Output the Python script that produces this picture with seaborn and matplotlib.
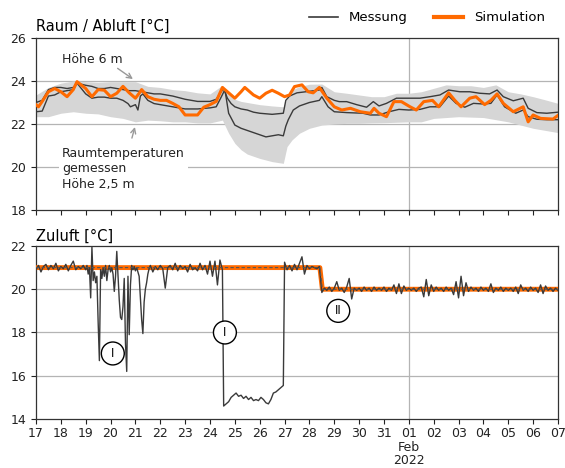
import numpy as np
import pandas as pd
import matplotlib
matplotlib.use("Agg")
import matplotlib.pyplot as plt
import matplotlib.dates as mdates
from matplotlib.ticker import FuncFormatter
from matplotlib.lines import Line2D
import seaborn as sns

# ---------------- data (day of January 2022; 32 = Feb 01) ----------------
hi_t = [17.0, 17.25, 17.5, 17.75, 18.0, 18.25, 18.5, 18.65, 19.0, 19.25, 19.5, 19.75, 20.0, 20.25,
        20.5, 20.75, 21.0, 21.25, 21.5, 21.75, 22.0, 22.5, 23.0, 23.5, 24.0, 24.25, 24.45, 24.55,
        24.7, 24.85, 25.0, 25.25, 25.5, 25.75, 26.0, 26.5, 26.95, 27.05, 27.2, 27.5, 28.0, 28.4,
        28.5, 28.7, 29.0, 29.2, 29.5, 29.9, 30.3, 30.57, 30.8, 31.1, 31.5, 32.0, 32.45, 32.85,
        33.25, 33.6, 34.05, 34.45, 34.85, 35.25, 35.55, 35.8, 36.2, 36.6, 36.8, 37.15, 37.55, 38.0]
hi_v = [23.0, 23.1, 23.6, 23.7, 23.7, 23.65, 23.7, 23.9, 23.8, 23.75, 23.65, 23.65, 23.7, 23.65,
        23.6, 23.55, 23.55, 23.5, 23.45, 23.4, 23.4, 23.3, 23.15, 23.05, 23.05, 23.15, 23.5, 23.65,
        23.2, 22.95, 22.8, 22.7, 22.65, 22.55, 22.5, 22.45, 22.5, 23.1, 23.3, 23.45, 23.52, 23.58,
        23.7, 23.27, 23.1, 23.04, 23.04, 22.9, 22.78, 23.04, 22.84, 22.96, 23.2, 23.2, 23.2, 23.27,
        23.35, 23.58, 23.5, 23.5, 23.43, 23.4, 23.58, 23.27, 23.08, 23.2, 22.73, 22.53, 22.5, 22.55]

lo_t = [17.0, 17.25, 17.5, 17.75, 18.0, 18.25, 18.5, 18.65, 19.0, 19.25, 19.5, 19.75, 20.0, 20.25,
        20.5, 20.7, 20.8, 21.0, 21.1, 21.2, 21.3, 21.5, 21.75, 22.0, 22.5, 23.0, 23.5, 24.0, 24.25,
        24.45, 24.6, 24.75, 25.0, 25.25, 25.5, 25.75, 26.0, 26.25, 26.5, 26.75, 26.95, 27.05, 27.15,
        27.35, 27.6, 28.0, 28.4, 28.5, 28.75, 29.0, 29.5, 30.15, 30.45, 30.8, 31.2, 31.6, 32.0,
        32.45, 32.85, 33.25, 33.6, 33.9, 34.25, 34.6, 35.0, 35.3, 35.55, 35.85, 36.3, 36.6, 36.8,
        37.15, 37.55, 38.0]
lo_v = [22.57, 22.6, 23.3, 23.35, 23.5, 23.55, 23.6, 23.9, 23.4, 23.2, 23.25, 23.25, 23.2, 23.2,
        23.1, 22.95, 22.8, 22.9, 22.65, 23.3, 23.4, 23.1, 22.95, 22.9, 22.8, 22.7, 22.7, 22.75, 22.8,
        23.25, 23.6, 22.5, 21.95, 21.8, 21.7, 21.6, 21.5, 21.4, 21.45, 21.5, 21.45, 21.9, 22.2,
        22.65, 22.84, 23.0, 23.1, 23.27, 22.8, 22.57, 22.53, 22.5, 22.42, 22.42, 22.57, 22.68, 22.65,
        22.68, 22.8, 22.8, 23.3, 22.96, 22.78, 22.96, 22.93, 22.96, 23.35, 22.8, 22.5, 22.65, 22.34,
        22.22, 22.2, 22.2]

sim_t = [17.0, 17.1, 17.25, 17.5, 17.75, 18.0, 18.25, 18.5, 18.65, 19.0, 19.25, 19.5, 19.75, 20.0,
         20.25, 20.5, 20.75, 21.0, 21.15, 21.25, 21.5, 21.75, 22.0, 22.25, 22.5, 22.75, 23.0, 23.25,
         23.5, 23.75, 24.0, 24.25, 24.5, 24.75, 25.0, 25.25, 25.4, 25.75, 26.0, 26.25, 26.5, 26.75,
         27.0, 27.2, 27.4, 27.7, 27.95, 28.15, 28.4, 28.7, 29.0, 29.3, 29.65, 30.05, 30.45, 30.6,
         30.8, 31.1, 31.4, 31.7, 32.05, 32.3, 32.6, 32.95, 33.2, 33.6, 33.85, 34.1, 34.45, 34.7,
         35.05, 35.3, 35.55, 35.8, 36.2, 36.6, 36.8, 37.0, 37.3, 37.8, 38.0]
sim_v = [22.9, 22.8, 23.05, 23.5, 23.65, 23.5, 23.27, 23.6, 23.97, 23.65, 23.27, 23.6, 23.57, 23.27,
         23.43, 23.75, 23.45, 23.2, 23.43, 23.6, 23.27, 23.15, 23.1, 23.1, 22.96, 22.8, 22.42, 22.42,
         22.42, 22.78, 22.9, 23.05, 23.7, 23.45, 23.2, 23.5, 23.7, 23.35, 23.2, 23.43, 23.57, 23.43,
         23.27, 23.35, 23.74, 23.82, 23.5, 23.45, 23.7, 23.2, 22.8, 22.65, 22.73, 22.57, 22.5, 22.73,
         22.5, 22.34, 23.04, 23.04, 22.8, 22.65, 23.04, 23.1, 22.8, 23.45, 23.1, 22.8, 23.2, 23.27,
         22.9, 23.1, 23.4, 22.96, 22.57, 22.8, 22.1, 22.42, 22.26, 22.23, 22.4]

band_t = [17.0, 17.5, 18.0, 18.5, 19.0, 19.5, 20.0, 20.5, 21.0, 21.5, 22.0, 22.5, 23.0, 23.5, 24.0,
          24.5, 24.75, 25.0, 25.25, 25.5, 26.0, 26.5, 26.95, 27.1, 27.3, 27.6, 28.0, 28.5, 29.0,
          29.5, 30.0, 30.5, 31.0, 31.5, 32.0, 32.5, 33.0, 33.5, 34.0, 34.5, 35.0, 35.5, 36.0, 36.5,
          37.0, 37.5, 38.0]
band_hi = [23.35, 23.7, 23.9, 24.0, 23.97, 23.94, 23.97, 23.97, 23.97, 23.75, 23.7, 23.6, 23.55,
           23.45, 23.4, 23.8, 23.4, 23.15, 23.05, 23.0, 22.9, 22.84, 22.8, 23.2, 23.58, 23.74, 23.85,
           23.86, 23.5, 23.43, 23.35, 23.27, 23.27, 23.43, 23.43, 23.5, 23.66, 23.82, 23.78, 23.78,
           23.7, 23.82, 23.5, 23.4, 23.27, 23.12, 22.96]
band_lo = [22.34, 22.34, 22.5, 22.57, 22.5, 22.47, 22.34, 22.26, 22.1, 22.18, 22.15, 22.1, 22.1,
           22.05, 22.05, 22.18, 21.57, 21.1, 20.8, 20.6, 20.4, 20.25, 20.17, 20.95, 21.26, 21.57,
           21.8, 21.95, 22.0, 22.03, 22.03, 22.05, 22.06, 22.08, 22.1, 22.1, 22.26, 22.3, 22.34,
           22.32, 22.3, 22.2, 22.1, 21.95, 21.8, 21.7, 21.6]

# Zuluft measurement, in segments (start day, step in days, values)
zu_seg1 = [20.9, 21.1, 20.8, 21.05, 21.15, 20.9, 21.1, 20.95, 21.2, 20.85, 21.05, 20.95, 21.15,
           20.85, 21.1, 21.3, 20.9, 21.05, 20.95, 21.1]
zu_seg2 = [20.9, 21.1, 20.7, 21.0, 19.6, 21.95, 20.4, 20.8, 20.3, 20.6, 18.5, 16.7, 20.9, 20.5,
           21.0, 20.6, 21.1, 20.4, 20.9, 21.1, 20.8, 21.0, 20.7, 19.9, 20.6, 21.75, 20.6, 19.5,
           18.7, 18.6, 19.2, 20.5, 17.5, 16.2, 20.6, 17.9, 20.2, 21.1, 20.9, 21.05, 20.85, 21.0,
           20.8, 20.6, 19.6, 18.6, 17.95, 19.4, 20.0, 20.3, 20.7, 20.95]
zu_seg3 = [21.1, 20.8, 21.05, 20.9, 21.1, 20.95, 20.05, 21.0, 21.1, 20.9, 21.2, 20.85, 21.1, 20.95,
           21.05, 20.8, 21.15, 20.9, 21.0, 20.85, 21.2, 20.9, 21.1, 20.7, 21.3, 20.6, 21.3, 20.2,
           21.35, 20.9]
zu_seg4 = [14.6, 14.7, 14.8, 15.0, 15.1, 15.2, 15.05, 15.1, 14.95, 15.05, 14.9, 15.0, 14.85, 14.9,
           14.85, 15.0, 14.9, 14.75, 14.7, 14.9, 15.2, 15.25, 15.35, 15.45, 15.55]
zu_seg5 = [21.25, 20.9, 21.1, 20.85, 21.15, 20.9, 21.2, 21.5, 20.7, 21.1, 20.95, 21.05, 21.0, 20.95,
           21.05]
zu_seg6 = [19.85, 20.05, 19.95, 20.1, 19.9, 20.05, 20.35, 19.95, 20.05, 19.85, 20.1, 20.5, 19.55,
           20.05, 19.95, 20.05, 19.9, 20.1, 19.95, 20.05, 19.9, 20.1, 19.95, 20.05, 19.95, 20.1,
           19.9, 20.05, 19.95, 20.2, 19.8, 20.25, 19.8, 20.15, 19.95, 20.05, 19.95, 20.05, 19.9,
           20.05, 20.1, 19.65, 20.45, 19.7, 20.2, 19.9, 20.1, 19.95, 20.05, 19.9, 20.1, 19.95,
           20.05, 19.75, 20.35, 19.6, 20.6, 19.7, 20.3, 19.9, 20.1, 19.95, 20.05, 19.9, 20.1, 19.95,
           20.05, 19.9, 20.25, 19.85, 20.05, 19.95, 20.1, 19.9, 20.05, 19.95, 20.05, 19.9, 20.1,
           19.8, 20.2, 19.95, 20.05, 19.9, 20.1, 19.95, 20.05, 19.85, 20.2, 19.8, 20.15, 19.95,
           20.05, 19.9, 20.05, 19.95]
zu_segments = [(17.0, 0.1, zu_seg1), (19.0, 0.05, zu_seg2), (21.6, 0.1, zu_seg3),
               (24.55, 0.1, zu_seg4), (27.0, 0.1, zu_seg5), (28.5, 0.1, zu_seg6)]

zsim_t = [17.0, 28.42, 28.52, 38.0]
zsim_v = [21.0, 21.0, 20.0, 20.0]

# ---------------- helpers ----------------
def to_dt(days):
    return pd.Timestamp("2022-01-01") + pd.to_timedelta(np.asarray(days, dtype=float) - 1, unit="D")

zu_t, zu_v = [], []
for start, step, vals in zu_segments:
    zu_t.extend(start + step * np.arange(len(vals)))
    zu_v.extend(vals)

DARK = "#3a3a3a"
ORANGE = "#ff6a00"
BAND = "#d6d6d6"
GRID = "#b4b4b4"

plt.rcParams["font.family"] = ["DejaVu Sans"]
fig = plt.figure(figsize=(5.65, 4.68), dpi=100)
ax1 = fig.add_axes([0.0637, 0.5513, 0.9239, 0.3675])
ax2 = fig.add_axes([0.0637, 0.1047, 0.9239, 0.3697])

# ---- top panel ----
ax1.fill_between(to_dt(band_t), band_lo, band_hi, color=BAND, lw=0, zorder=1)
sns.lineplot(x=to_dt(hi_t), y=hi_v, ax=ax1, color=DARK, lw=1.0, estimator=None, sort=False, zorder=3)
sns.lineplot(x=to_dt(lo_t), y=lo_v, ax=ax1, color=DARK, lw=1.0, estimator=None, sort=False, zorder=3)
sns.lineplot(x=to_dt(sim_t), y=sim_v, ax=ax1, color=ORANGE, lw=2.2, estimator=None, sort=False, zorder=4)

# ---- bottom panel ----
sns.lineplot(x=to_dt(zsim_t), y=zsim_v, ax=ax2, color=ORANGE, lw=3.5, estimator=None, sort=False, zorder=3)
sns.lineplot(x=to_dt(zu_t), y=zu_v, ax=ax2, color=DARK, lw=1.0, estimator=None, sort=False, zorder=4)
ax2.plot(to_dt(zsim_t), zsim_v, color="#555555", lw=0.8, ls=(0, (3, 2)), zorder=5)

feb1 = to_dt([32])[0]
for ax, lo, hi in [(ax1, 18, 26), (ax2, 14, 22)]:
    ax.set_xlim(to_dt([17])[0], to_dt([38])[0])
    ax.set_ylim(lo, hi)
    ax.set_yticks(np.arange(lo, hi + 1, 2))
    for yv in np.arange(lo + 2, hi, 2):
        ax.axhline(yv, color=GRID, lw=0.9, zorder=0.5)
    ax.axvline(feb1, color=GRID, lw=0.9, zorder=0.5)
    ax.xaxis.set_major_locator(mdates.DayLocator())
    ax.tick_params(axis="both", labelsize=9, length=3.5, width=0.8, colors="#222222")
    ax.set_xlabel("")
    ax.set_ylabel("")
    for s in ax.spines.values():
        s.set_color("#333333")
        s.set_linewidth(0.9)

def fmt(x, pos):
    d = mdates.num2date(x)
    if d.day == 1:
        return d.strftime("%d\n%b\n%Y")
    return d.strftime("%d")

ax2.xaxis.set_major_formatter(FuncFormatter(fmt))
ax2.tick_params(axis="x", pad=2.5)
ax1.tick_params(axis="x", labelbottom=False)

ax1.set_title("Raum / Abluft [°C]", loc="left", fontsize=10.5, pad=5)
ax2.set_title("Zuluft [°C]", loc="left", fontsize=10.5, pad=4)

# ---- annotations ----
ax1.annotate("Höhe 6 m", xy=(to_dt([20.9])[0], 24.09), xytext=(to_dt([18.05])[0], 25.02),
             fontsize=9, va="center", ha="left", color="#222222",
             arrowprops=dict(arrowstyle="->", color="#999999", lw=1.0, shrinkA=0, shrinkB=0,
                             relpos=(0.85, 0.0)))
ax1.annotate("Raumtemperaturen\ngemessen\nHöhe 2,5 m", xy=(to_dt([20.98])[0], 21.86),
             xytext=(to_dt([18.05])[0], 20.95), fontsize=9, va="top", ha="left",
             color="#222222", linespacing=1.25,
             bbox=dict(boxstyle="square,pad=0.25", fc="white", ec="none"),
             arrowprops=dict(arrowstyle="->", color="#999999", lw=1.0, shrinkA=4, shrinkB=0,
                             relpos=(0.55, 1.0)), zorder=6)

for day, val, lab in [(20.09, 17.03, "I"), (24.6, 18.0, "I"), (29.16, 19.0, "II")]:
    ax2.text(to_dt([day])[0], val, lab, ha="center", va="center", fontsize=8.5, zorder=7,
             bbox=dict(boxstyle="circle,pad=0.42", fc="white", ec="black", lw=1.0))

# ---- legend ----
handles = [Line2D([], [], color=DARK, lw=1.2), Line2D([], [], color=ORANGE, lw=3)]
fig.legend(handles, ["Messung", "Simulation"], loc="center right", bbox_to_anchor=(0.985, 0.962),
           ncol=2, frameon=False, fontsize=9.5, handlelength=2.2, columnspacing=2.0,
           handletextpad=0.8)

fig.canvas.draw()
for lab in ax2.get_xticklabels():
    lab.set_linespacing(1.05)

fig.savefig("out.png", dpi=100)
